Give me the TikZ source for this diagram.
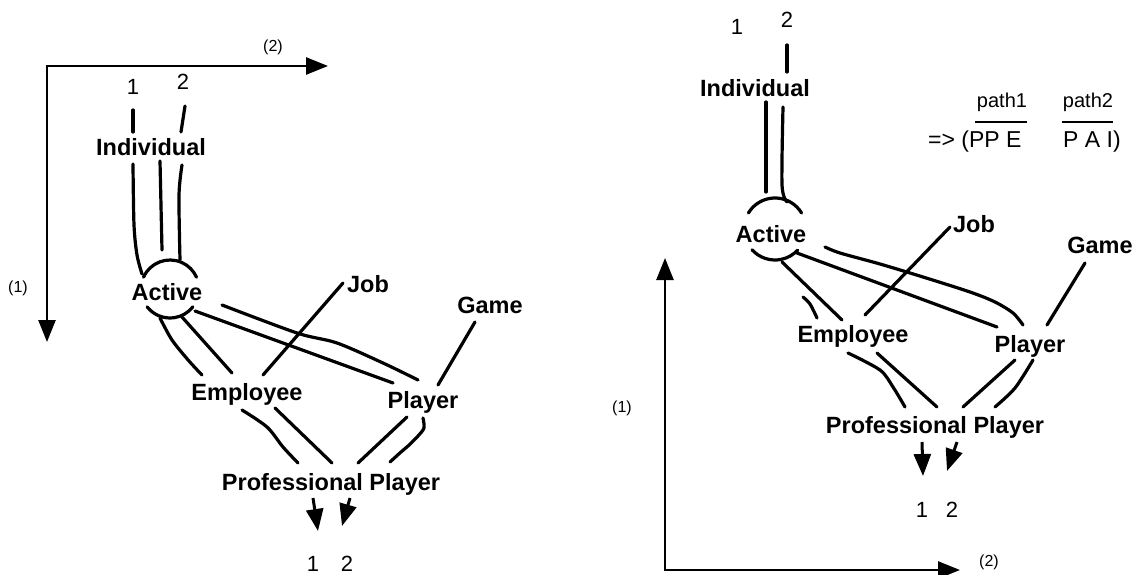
\documentclass[tikz,border=0pt]{standalone}
\usepackage{fontspec}
\setmainfont{Liberation Sans}
\usetikzlibrary{arrows.meta}
\begin{document}
\begin{tikzpicture}[x=1pt,y=-1pt,
  lbl/.style={font=\bfseries\fontsize{23.5}{28}\selectfont,inner sep=0pt,anchor=base},
  num/.style={font=\fontsize{22}{26}\selectfont,inner sep=0pt,anchor=base},
  axl/.style={font=\fontsize{16}{19}\selectfont,inner sep=0pt,anchor=base},
  frm/.style={font=\fontsize{23}{27}\selectfont,inner sep=0pt,anchor=base west},
  pth/.style={font=\fontsize{20}{24}\selectfont,inner sep=0pt,anchor=base},
  ln/.style={line width=3.2pt,line cap=round,line join=round},
  axis/.style={line width=2.6pt,{Triangle[length=22pt,width=17pt]}-{Triangle[length=22pt,width=17pt]}},
  dn/.style={line width=3pt,-{Triangle[length=22pt,width=17pt]}},
]
\useasboundingbox (0,0) rectangle (1142,575);

% ================= LEFT =================
\coordinate (axL) at (47,66);
\coordinate (axLx) at (328,66);
\coordinate (axLy) at (47,342);
\draw[axis] (axLy) -- (axL) -- (axLx);
\node[axl] (ax2L) at (273,52) {(2)};
\node[axl] (ax1L) at (18,292) {(1)};

\node[num] (t1L) at (133,95) {1};
\node[num] (t2L) at (183,90) {2};
\node[lbl] (indL) at (151,155) {Individual};
\node[lbl] (actL) at (167,300) {Active};
\node[lbl] (jobL) at (368,292) {Job};
\node[lbl] (gameL) at (490,313) {Game};
\node[lbl] (empL) at (247,400) {Employee};
\node[lbl] (plaL) at (423,408) {Player};
\node[lbl] (proL) at (331,490) {Professional Player};
\node[num] (b1L) at (313,571) {1};
\node[num] (b2L) at (347,571) {2};

\coordinate (acL) at (170,289);
\draw[ln] (acL) ++(156:29pt) arc[start angle=156,end angle=24,radius=29pt];
\draw[ln] (acL) ++(218:29pt) arc[start angle=218,end angle=322,radius=29pt];

\draw[ln] (133,110) -- (133,132);
\draw[ln] (185,106) -- (181,132);
\draw[ln] plot[smooth] coordinates {(133,164) (134,225) (137,255) (142,274)};
\draw[ln] (160,161) -- (162,250);
\draw[ln] plot[smooth] coordinates {(182,165) (179,195) (180,260)};

\draw[ln] plot[smooth] coordinates {(160,318) (172,340) (189,361) (202,375)};
\draw[ln] (182,317) -- (232,373);
\draw[ln] (195,311) -- (393,383);
\draw[ln] plot[smooth] coordinates {(222,305) (297,333) (337,343) (383,363) (418,380)};
\draw[ln] (343,283) -- (263,375);
\draw[ln] (475,322) -- (438,385);

\draw[ln] plot[smooth] coordinates {(242,410) (267,427) (283,447) (298,463)};
\draw[ln] (275,408) -- (332,463);
\draw[ln] (407,417) -- (358,463);
\draw[ln] plot[smooth] coordinates {(423,418) (424,428) (418,436) (413,441) (408,446) (401,452) (390,462)};

\draw[dn] (313,498) -- (318,531);
\draw[dn] (350,498) -- (342,526);

% ================= RIGHT =================
\coordinate (axR) at (665,570);
\coordinate (axRx) at (960,570);
\coordinate (axRy) at (665,258);
\draw[axis] (axRy) -- (axR) -- (axRx);
\node[axl] (ax1R) at (622,412) {(1)};
\node[axl] (ax2R) at (989,566) {(2)};

\node[num] (t1R) at (737,35) {1};
\node[num] (t2R) at (787,28) {2};
\node[lbl] (indR) at (755,97) {Individual};
\node[lbl] (actR) at (771,242) {Active};
\node[lbl] (jobR) at (974,232) {Job};
\node[lbl] (gameR) at (1100,253) {Game};
\node[lbl] (empR) at (853,342) {Employee};
\node[lbl] (plaR) at (1030,352) {Player};
\node[lbl] (proR) at (935,433) {Professional Player};
\node[num] (b1R) at (922,517) {1};
\node[num] (b2R) at (952,517) {2};

\node[pth] (p1) at (1002,108) {path1};
\node[pth] (p2) at (1088,108) {path2};
\node[frm] (f1) at (928,147) {=> (PP E};
\node[frm] (f2) at (1063,147) {P A I)};
\draw[line width=2pt] (975,122) -- (1027,122);
\draw[line width=2pt] (1062,122) -- (1113,122);

\coordinate (acR) at (775,229);
\draw[ln] (acR) ++(149:31pt) arc[start angle=149,end angle=31,radius=31pt];
\draw[ln] (acR) ++(222:31pt) arc[start angle=222,end angle=317,radius=31pt];

\draw[ln] (787,45) -- (787,72);
\draw[ln] (766,102) -- (766,192);
\draw[ln] plot[smooth] coordinates {(783,107) (782,185) (787,202)};

\draw[ln] (782,262) -- (842,320);
\draw[ln] plot[smooth] coordinates {(803,297) (810,304) (817,318)};
\draw[ln] (797,253) -- (997,327);
\draw[ln] plot[smooth] coordinates {(825,247) (840,253) (880,264) (923,277) (970,292) (995,302) (1013,313) (1023,325)};
\draw[ln] (950,227) -- (865,315);
\draw[ln] (1085,263) -- (1047,325);

\draw[ln] plot[smooth] coordinates {(848,353) (880,370) (893,387) (905,407)};
\draw[ln] (877,353) -- (937,407);
\draw[ln] (1015,360) -- (963,407);
\draw[ln] plot[smooth] coordinates {(1033,360) (1015,388) (995,407)};

\draw[dn] (922,442) -- (923,476);
\draw[dn] (957,442) -- (947,471);
\end{tikzpicture}
\end{document}
